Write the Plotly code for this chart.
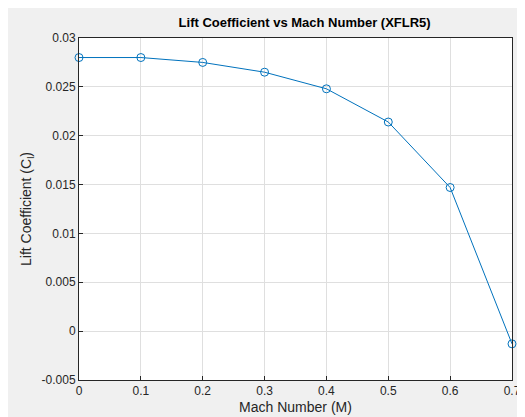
import plotly.graph_objects as go

mach = [0, 0.1, 0.2, 0.3, 0.4, 0.5, 0.6, 0.7]
cl = [0.0280, 0.0280, 0.0275, 0.0265, 0.0248, 0.0214, 0.0147, -0.0013]
xticks = [0, 0.1, 0.2, 0.3, 0.4, 0.5, 0.6, 0.7]
xlabels = ["0", "0.1", "0.2", "0.3", "0.4", "0.5", "0.6", "0.7"]
yticks = [-0.005, 0, 0.005, 0.01, 0.015, 0.02, 0.025, 0.03]
ylabels = ["-0.005", "0", "0.005", "0.01", "0.015", "0.02", "0.025", "0.03"]

fig = go.Figure(go.Scatter(
    x=mach, y=cl, mode="lines+markers", cliponaxis=False,
    line=dict(color="#0072BD", width=1),
    marker=dict(symbol="circle-open", size=8, color="#0072BD", line=dict(width=1)),
))
ax = dict(showline=True, mirror=True, linecolor="#262626", linewidth=1,
          gridcolor="#dfdfdf", ticks="inside", ticklen=4, tickcolor="#262626",
          zeroline=False, tickfont=dict(size=12, color="#262626"))
fig.update_layout(
    width=525, height=417,
    paper_bgcolor="#f0f0f0", plot_bgcolor="white",
    margin=dict(l=71, r=15, t=30, b=45),
    font=dict(family="Arial, Liberation Sans", color="#262626"),
    title=dict(text="<b>Lift Coefficient vs Mach Number (XFLR5)</b>", x=0.565, xanchor="center",
               y=0.965, yanchor="middle", font=dict(size=13, color="black")),
    showlegend=False,
)
fig.update_xaxes(**ax, range=[0, 0.7], tickvals=xticks, ticktext=xlabels,
                 title=dict(text="Mach Number (M)", font=dict(size=14), standoff=4))
fig.update_yaxes(**ax, range=[-0.005, 0.03], tickvals=yticks, ticktext=ylabels,
                 title=dict(text="Lift Coefficient (C<sub>l</sub>)", font=dict(size=14), standoff=6))
fig.write_html("out.html")
